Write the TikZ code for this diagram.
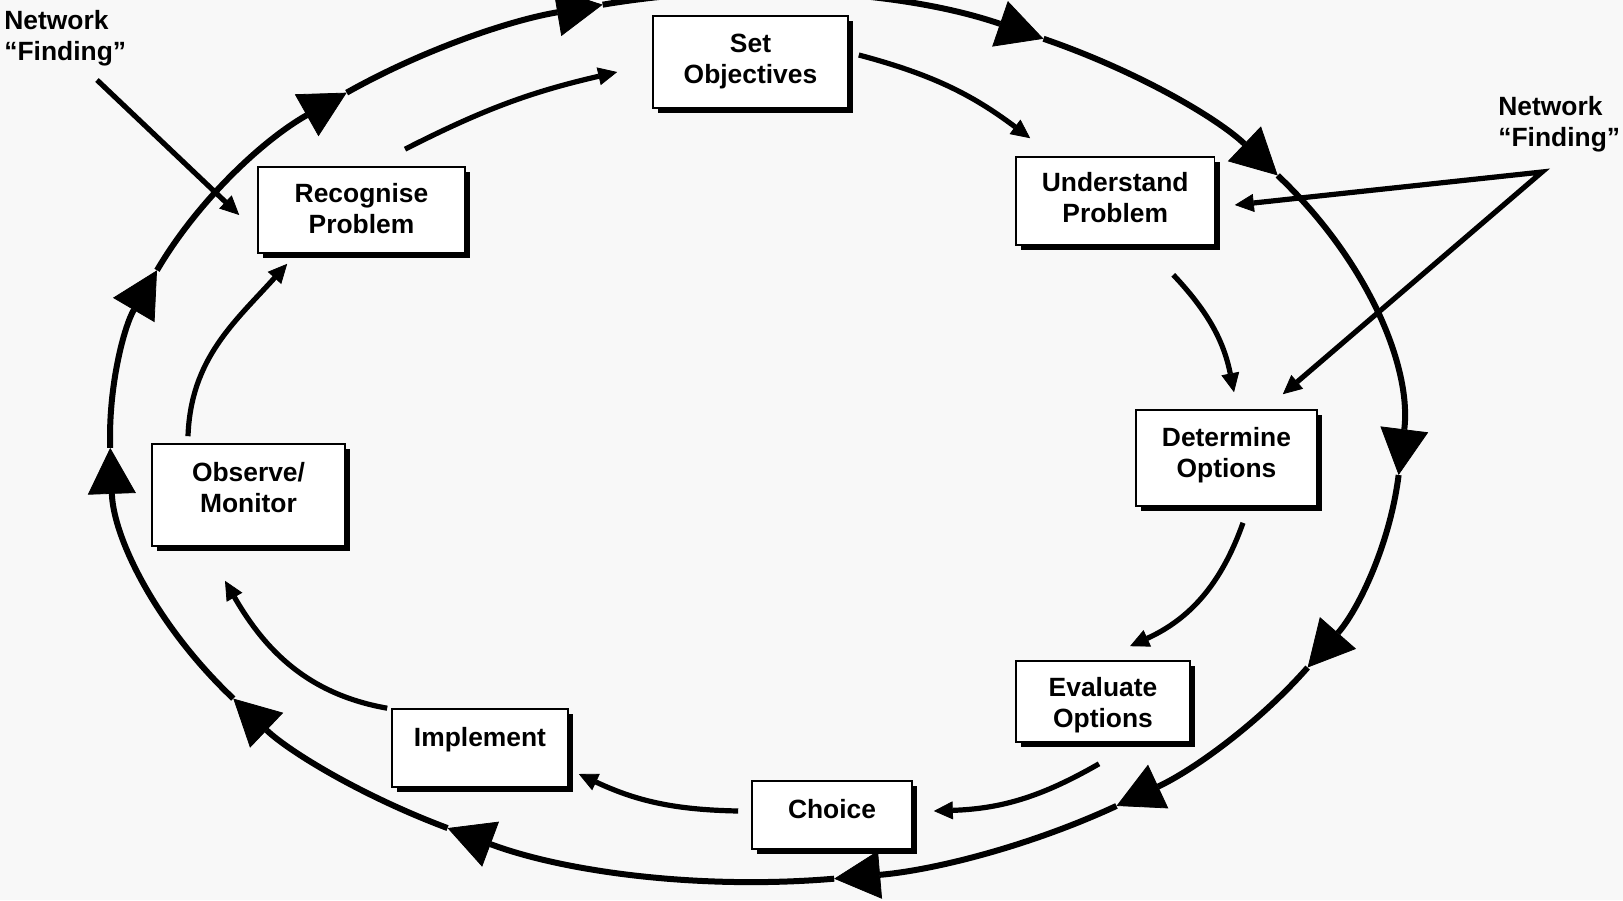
\documentclass[tikz,border=0pt]{standalone}
\usepackage{fontspec}
\setmainfont{Liberation Sans}
\usetikzlibrary{arrows.meta,shadows,calc}
\definecolor{bgc}{HTML}{F8F8F8}
\newcommand\liftbox[2]{\raisebox{#1}[\height][\depth]{\begin{tabular}{@{}c@{}}#2\end{tabular}}}
\newcommand\ellarc[2]{\draw[ellarrow] ({755.5+645.5*cos(#1)},{-437+445*sin(#1)}) arc[start angle=#1,end angle=#2,x radius=322.75pt,y radius=222.5pt];}
\begin{document}
\begin{tikzpicture}[x=0.5pt,y=0.5pt,
  stagebox/.style={draw=black, line width=0.8pt, fill=white, inner sep=0pt,
    font=\fontsize{13.2}{15.5}\selectfont\bfseries,
    general shadow={fill=black, shadow xshift=2.7pt, shadow yshift=-2.7pt}},
  ellarrow/.style={line width=3pt, -{Triangle[length=23pt,width=24pt,line width=0.4pt]}},
  flow/.style={line width=2.6pt, -{Triangle[length=9.5pt,width=9pt,line width=0.4pt]}},
  flowboth/.style={line width=2.6pt, {Triangle[length=9.5pt,width=9pt,line width=0.4pt]}-{Triangle[length=9.5pt,width=9pt,line width=0.4pt]}},
  lbl/.style={font=\fontsize{13.2}{15.5}\selectfont\bfseries, align=left, inner sep=0pt}]
\fill[bgc] (0,0) rectangle (1623,-900);
\useasboundingbox (0,0) rectangle (1623,-900);
\clip (0,0) rectangle (1623,-900);

% outer cycle
\ellarc{103.7}{63.5}
\ellarc{63.5}{36}
\ellarc{36}{-4.9}
\ellarc{-4.9}{-31.2}
\ellarc{-31.2}{-56}
\ellarc{-56}{-83}
\ellarc{-83}{-118.5}
\ellarc{-118.5}{-144}
\ellarc{-144}{-178.6}
\ellarc{-178.6}{-202}
\ellarc{-202}{-230.7}
\ellarc{-230.7}{-256.3}

% stages
\node[stagebox, minimum width=103.5pt, minimum height=43pt] (rec) at (361.5,-210) {\liftbox{-1pt}{Recognise\\Problem}};
\node[stagebox, minimum width=97.5pt, minimum height=46pt] (obj) at (750.5,-62) {\liftbox{0pt}{Set\\Objectives}};
\node[stagebox, minimum width=99.25pt, minimum height=44pt] (und) at (1115.25,-201) {\liftbox{0pt}{Understand\\Problem}};
\node[stagebox, minimum width=90.5pt, minimum height=48pt] (det) at (1226.5,-458) {\liftbox{1pt}{Determine\\Options}};
\node[stagebox, minimum width=87pt, minimum height=40.5pt] (eva) at (1103,-701.5) {\liftbox{-2pt}{Evaluate\\Options}};
\node[stagebox, minimum width=80pt, minimum height=34pt] (cho) at (832,-815) {\liftbox{1.5pt}{Choice}};
\node[stagebox, minimum width=88pt, minimum height=39pt] (imp) at (480,-748) {\liftbox{4pt}{Implement}};
\node[stagebox, minimum width=96.5pt, minimum height=51pt] (obs) at (248.5,-495) {\liftbox{2pt}{Observe/\\Monitor}};

% inner flow
\draw[flow] ([shift={(43.5,17)}]rec.north) to[bend left=7] ([shift={(-35,-10)}]obj.west);
\draw[flow] ([shift={(10,7)}]obj.east) to[bend left=11] ([shift={(15,18)}]und.north west);
\draw[flow] ([shift={(58,-29)}]und.south) to[bend left=16] ([shift={(7.5,17)}]det.north);
\draw[flow] ([shift={(16.5,-16)}]det.south) to[bend left=23] ([shift={(27,14)}]eva.north);
\draw[flow] ([shift={(-4,-21)}]eva.south) to[bend left=14] ([shift={(21,4)}]cho.east);
\draw[flow] ([shift={(-13,4)}]cho.west) to[bend left=12] ([shift={(10,-26)}]imp.east);
\draw[flow] ([shift={(-4,0)}]imp.north west) to[out=170,in=-60] ([shift={(-23.5,-34)}]obs.south);
\draw[flow] ([shift={(-60.5,7)}]obs.north) to[out=88,in=228] ([shift={(30,-10)}]rec.south west);

% network finding
\node[lbl, anchor=west] (nfl) at (4,-38) {Network\\“Finding”};
\node[lbl, anchor=west] (nfr) at (1498,-124) {Network\\“Finding”};
\coordinate (nfA) at (97,-80);
\coordinate (nfB) at (1542,-172);
\draw[flow] (nfA) -- ([shift={(-18,-5)}]rec.west);
\draw[flowboth, line join=miter] ([shift={(19.5,-4)}]und.east) -- (nfB) -- ([shift={(-35,15)}]det.north east);
\end{tikzpicture}
\end{document}
